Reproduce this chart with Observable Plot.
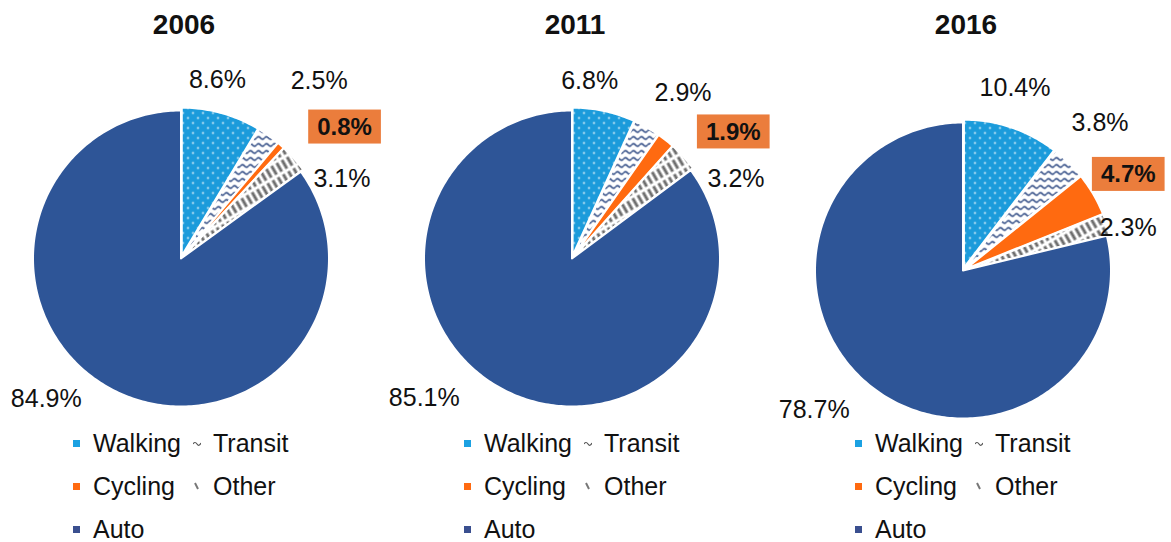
<!DOCTYPE html>
<html><head><meta charset="utf-8">
<script src="https://cdn.jsdelivr.net/npm/d3@7"></script>
<script src="https://cdn.jsdelivr.net/npm/@observablehq/plot@0.6"></script>
<style>
body{margin:0;background:#fff;font-family:"Liberation Sans",Arial,sans-serif;color:#111;overflow:hidden;}
#wrap{display:flex;width:1171px;}
.panel{width:391px;flex:none;position:relative;}
.title{width:368px;height:50px;line-height:50px;text-align:center;font-weight:bold;font-size:28px;}
.panel > svg{overflow:visible;display:block;}
.legend{display:grid;grid-template-columns:120px auto;margin-left:73px;font-size:25px;line-height:43px;margin-top:1px;}
.item{white-space:nowrap;height:43px;}
.mk{display:inline-block;width:7px;height:7px;margin-right:13px;vertical-align:middle;position:relative;top:-2px;}
.mks{display:inline-block;width:8px;height:8px;margin-right:12px;vertical-align:middle;position:relative;top:-2px;}
</style></head>
<body>
<svg width="0" height="0" style="position:absolute">
  <defs>
    <pattern id="pWalk" patternUnits="userSpaceOnUse" width="10" height="10">
      <rect width="10" height="10" fill="#1B9BDB"/>
      <circle cx="2.5" cy="2.5" r="0.9" fill="#fff"/>
      <circle cx="7.5" cy="7.5" r="0.9" fill="#fff"/>
    </pattern>
    <pattern id="pTransit" patternUnits="userSpaceOnUse" width="8" height="7">
      <rect width="8" height="7" fill="#fff"/>
      <path d="M0,3.5 q2,-2.5 4,0 t4,0" fill="none" stroke="#1F3C7A" stroke-width="1.3"/>
    </pattern>
    <pattern id="pOther" patternUnits="userSpaceOnUse" width="6" height="13" patternTransform="rotate(-30)">
      <rect width="6" height="13" fill="#fff"/>
      <rect x="1.5" y="1.5" width="3" height="10" fill="#6F6F6F"/>
    </pattern>
  </defs>
</svg>
<div id="wrap"></div>
<script>
// ---- data ----
const years = ["2006", "2011", "2016"];
const modes = ["Walking", "Transit", "Cycling", "Other", "Auto"];
const walking = [8.6, 6.8, 10.4];
const transit = [2.5, 2.9, 3.8];
const cycling = [0.8, 1.9, 4.7];
const other = [3.1, 3.2, 2.3];
const auto = [84.9, 85.1, 78.7];

// ---- layout / styles ----
const series = {Walking: walking, Transit: transit, Cycling: cycling, Other: other, Auto: auto};
const fills = {Walking: "url(#pWalk)", Transit: "url(#pTransit)", Cycling: "#FF6A10", Other: "url(#pOther)", Auto: "#2E5597"};
const explode = {Walking: 0.02, Transit: 0.02, Cycling: 0.02, Other: 0.02, Auto: 0};
const R = 148, CX = 180.5, W = 391, H = 371;
const centerY = [208, 208, 220];
// pixel nudges of labels from their slice mid-angle anchor
const nudges = [
  {Walking: [-11, -7], Transit: [35, -33], Cycling: [46, 2], Other: [28, 38], Auto: [-54, -18]},
  {Walking: [-20, -4], Transit: [23, -11], Cycling: [51, 13], Other: [33, 40], Auto: [-68, -19]},
  {Walking: [-5, -14], Transit: [13, -20], Cycling: [12, -6], Other: [-4, 12], Auto: [-39, 0]}
];

function slices(i) {
  const vals = modes.map(m => series[m][i]);
  const total = d3.sum(vals);
  let acc = 0;
  const pts = [], labs = [];
  modes.forEach((m, k) => {
    const a0 = acc / total * 2 * Math.PI; acc += vals[k];
    const a1 = acc / total * 2 * Math.PI;
    const mid = (a0 + a1) / 2, e = explode[m];
    const ox = e * Math.sin(mid), oy = e * Math.cos(mid);
    const n = Math.max(2, Math.ceil((a1 - a0) / (Math.PI / 180)));
    pts.push({mode: m, x: ox, y: oy});
    for (let j = 0; j <= n; j++) {
      const a = a0 + (a1 - a0) * j / n;
      pts.push({mode: m, x: ox + Math.sin(a), y: oy + Math.cos(a)});
    }
    pts.push({mode: m, x: ox, y: oy});
    const nd = nudges[i][m];
    labs.push({mode: m, text: vals[k].toFixed(1) + "%",
      x: 1.2 * Math.sin(mid) + nd[0] / R, y: 1.2 * Math.cos(mid) - nd[1] / R});
  });
  return {pts, labs};
}

const wrap = document.getElementById("wrap");
const legendItems = [
  {label: "Walking", html: '<span class="mk" style="background:#1BA1E2"></span>'},
  {label: "Transit", html: '<svg class="mks" viewBox="0 0 8 8"><path d="M0,5 q2,-3 4,0 t4,-1" fill="none" stroke="#555" stroke-width="1.2"/></svg>'},
  {label: "Cycling", html: '<span class="mk" style="background:#FF6A10"></span>'},
  {label: "Other", html: '<svg class="mks" viewBox="0 0 8 8"><path d="M2,1 L5,7" stroke="#777" stroke-width="2"/></svg>'},
  {label: "Auto", html: '<span class="mk" style="background:#3A4F8F"></span>'}
];

const charts = [];
years.forEach((yr, i) => {
  const {pts, labs} = slices(i);
  const panel = document.createElement("div");
  panel.className = "panel";
  const t = document.createElement("div");
  t.className = "title"; t.textContent = yr;
  panel.appendChild(t);
  const cy = centerY[i];
  const chart = Plot.plot({
    width: W, height: H,
    marginTop: 0, marginRight: 0, marginBottom: 0, marginLeft: 0,
    style: {fontFamily: "Liberation Sans, Arial, sans-serif", background: "transparent", overflow: "visible"},
    x: {domain: [-1, 1], range: [CX - R, CX + R], axis: null},
    y: {domain: [-1, 1], range: [cy + R, cy - R], axis: null},
    marks: [
      ...modes.map(m => Plot.line(pts.filter(d => d.mode === m), {
        x: "x", y: "y", fill: fills[m], stroke: "white", strokeWidth: 2, strokeLinejoin: "round"
      })),
      Plot.text(labs.filter(d => d.mode !== "Cycling"), {x: "x", y: "y", text: "text", fontSize: 25, fill: "#111"}),
      Plot.text(labs.filter(d => d.mode === "Cycling"), {x: "x", y: "y", text: "text", fontSize: 24, fontWeight: "bold", fill: "#111"})
    ]
  });
  charts.push(chart);
  panel.appendChild(chart);
  const lg = document.createElement("div");
  lg.className = "legend";
  lg.innerHTML = legendItems.map(d => `<div class="item">${d.html}${d.label}</div>`).join("");
  panel.appendChild(lg);
  wrap.appendChild(panel);
});

// orange boxes behind cycling labels (last text mark of each chart)
charts.forEach(svg => {
  const texts = svg.querySelectorAll("text");
  const tx = texts[texts.length - 1];
  if (!tx) return;
  const b = tx.getBBox();
  const rect = document.createElementNS("http://www.w3.org/2000/svg", "rect");
  const h = 34, w = b.width + 18;
  rect.setAttribute("x", b.x + b.width / 2 - w / 2);
  rect.setAttribute("y", b.y + b.height / 2 - h / 2);
  rect.setAttribute("width", w);
  rect.setAttribute("height", h);
  rect.setAttribute("fill", "#EB7D3C");
  const tr = tx.getAttribute("transform");
  if (tr) rect.setAttribute("transform", tr);
  tx.parentNode.insertBefore(rect, tx);
});
</script>
</body></html>
